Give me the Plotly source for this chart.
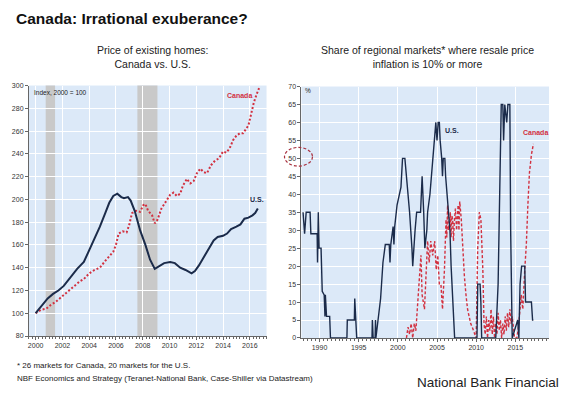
import plotly.graph_objects as go

# ---------------- Left chart: price of existing homes (Index, 2000 = 100)
us_price_x = [2000.0, 2000.4, 2000.9, 2001.3, 2001.7, 2002.1, 2002.6, 2003.1, 2003.6, 2004.0,
              2004.4, 2004.8, 2005.2, 2005.5, 2005.8, 2006.1, 2006.4, 2006.6, 2006.9, 2007.1,
              2007.4, 2007.6, 2007.8, 2008.2, 2008.55, 2008.9, 2009.2, 2009.6, 2010.05, 2010.4,
              2010.8, 2011.2, 2011.65, 2011.9, 2012.2, 2012.6, 2013.0, 2013.3, 2013.6, 2014.0,
              2014.3, 2014.6, 2015.0, 2015.3, 2015.6, 2015.9, 2016.2, 2016.4, 2016.6]
us_price_y = [100, 106, 113, 117, 120, 124, 132, 139, 145, 155,
              166, 176, 188, 197, 203, 205, 202, 201, 202, 199,
              190, 182, 173, 160, 147, 139, 141, 144, 145, 144,
              140, 138, 135, 137, 142, 150, 158, 164, 167, 168,
              170, 174, 176, 178, 183, 184, 186, 188, 192]

ca_price_x = [2000.0, 2000.4, 2000.8, 2001.1, 2001.5, 2001.9, 2002.4, 2002.9, 2003.3, 2003.6,
              2004.0, 2004.4, 2004.8, 2005.2, 2005.5, 2005.8, 2006.0, 2006.2, 2006.5, 2006.8,
              2007.0, 2007.2, 2007.5, 2007.8, 2008.05, 2008.2, 2008.4, 2008.7, 2008.9, 2009.1,
              2009.4, 2009.8, 2010.05, 2010.3, 2010.55, 2010.8, 2011.0, 2011.3, 2011.55, 2011.8,
              2012.05, 2012.3, 2012.55, 2012.8, 2013.1, 2013.4, 2013.7, 2014.0, 2014.25, 2014.5,
              2014.75, 2015.0, 2015.25, 2015.5, 2015.75, 2015.9, 2016.1, 2016.3, 2016.5, 2016.7]
ca_price_y = [100, 103, 104, 107, 110, 114, 119, 124, 128, 130,
              135, 138, 140, 146, 150, 154, 160, 170, 172, 171,
              178, 188, 190, 189, 195, 196, 190, 186, 179, 182,
              192, 199, 204, 206, 203, 205, 212, 218, 214, 216,
              223, 227, 224, 223, 230, 234, 236, 242, 241, 245,
              252, 256, 258, 258, 262, 265, 275, 285, 292, 298]

recessions = [(2000.75, 2001.45), (2007.6, 2009.1)]

# ---------------- Right chart: share of regional markets with >=10% inflation
us_share_x = [1987.9, 1988.1, 1988.3, 1988.8, 1988.9, 1989.7, 1989.75, 1989.85, 1989.95, 1990.2,
              1990.35, 1990.6, 1990.7, 1990.75, 1990.9, 1991.3, 1991.4, 1993.5, 1993.55, 1994.45,
              1994.5, 1994.7, 1994.75, 1996.7, 1996.75, 1996.85, 1997.1, 1997.15, 1997.2, 1997.8,
              1998.1, 1998.4, 1998.9, 1999.0, 1999.1, 1999.4, 1999.5, 1999.6, 1999.9, 2000.4,
              2000.6, 2000.9, 2001.1, 2001.3, 2001.5, 2001.8, 2001.9, 2002.2, 2002.4, 2002.9,
              2003.1, 2003.3, 2003.45, 2003.7, 2003.8, 2004.1, 2004.3, 2004.5, 2004.7, 2004.85,
              2005.0, 2005.15, 2005.3, 2005.4, 2005.6, 2005.7, 2005.8, 2006.0, 2006.1, 2006.3,
              2006.5, 2006.65, 2006.8, 2006.9, 2007.0, 2007.1, 2007.25, 2010.1, 2010.2, 2010.5,
              2010.6, 2010.7, 2012.5, 2012.8, 2013.0, 2013.2, 2013.4, 2013.5, 2013.65, 2013.9,
              2014.05, 2014.3, 2014.4, 2014.6, 2015.3, 2015.45, 2015.6, 2015.8, 2016.2, 2016.3,
              2017.05, 2017.2, 2017.3]
us_share_y = [35, 29, 35, 35, 29, 29, 21, 35, 25, 25,
              13, 12, 6, 12, 6, 6, 0, 0, 5, 5,
              11, 0, 0, 0, 5, 0, 0, 5, 0, 11,
              21, 26, 26, 21, 26, 31, 26, 31, 37, 42,
              50, 50, 45, 40, 35, 25, 20, 30, 35, 35,
              45, 35, 25, 30, 35, 40, 45, 50, 55, 60,
              55, 60, 60, 55, 50, 45, 50, 50, 45, 40,
              35, 30, 20, 15, 10, 5, 0, 0, 15, 15,
              10, 0, 0, 15, 45, 65, 65, 55, 65, 60,
              65, 65, 30, 0, 5, 0, 15, 20, 20, 10,
              10, 5, 5]

ca_share_x = [2001.1, 2001.3, 2001.5, 2001.7, 2001.9, 2002.1, 2002.3, 2002.5, 2002.7, 2002.95,
              2003.1, 2003.4, 2003.6, 2003.8, 2004.0, 2004.2, 2004.45, 2004.7, 2004.9, 2005.1,
              2005.3, 2005.5, 2005.7, 2005.95, 2006.15, 2006.25, 2006.35, 2006.45, 2006.6, 2006.7,
              2006.8, 2006.9, 2007.0, 2007.1, 2007.2, 2007.35, 2007.5, 2007.6, 2007.7, 2007.8,
              2007.9, 2008.1, 2008.3, 2008.5, 2008.7, 2008.9, 2009.1, 2009.3, 2009.5, 2009.8,
              2010.0, 2010.2, 2010.4, 2010.6, 2010.85, 2011.0, 2011.15, 2011.3, 2011.45, 2011.6,
              2011.75, 2011.9, 2012.05, 2012.2, 2012.35, 2012.5, 2012.65, 2012.8, 2012.95, 2013.1,
              2013.25, 2013.4, 2013.55, 2013.7, 2013.85, 2014.0, 2014.15, 2014.3, 2014.45, 2014.6,
              2014.75, 2014.9, 2015.2, 2015.4, 2015.75, 2015.95, 2016.2, 2016.4, 2016.6, 2016.8,
              2017.05, 2017.3]
ca_share_y = [0, 3, 1, 4, 0, 4, 2, 10, 15, 23,
              12, 8, 19, 27, 21, 27, 23, 27, 19, 23,
              15, 15, 8, 19, 33, 28, 37, 30, 31, 35,
              28, 34, 33, 27, 32, 36, 30, 34, 37, 30,
              38, 33, 24, 17, 12, 8, 6, 4, 3, 1,
              0, 25, 35, 33, 19, 4, 1, 6, 0, 5,
              2, 8, 1, 6, 0, 4, 1, 7, 2, 5,
              0, 4, 1, 6, 2, 7, 3, 8, 4, 6,
              2, 0, 0, 3, 12, 8, 19, 26, 37, 46,
              51, 54]

left_yticks = list(range(80, 301, 20))
left_xticks = list(range(2000, 2017, 2))
right_yticks = list(range(0, 71, 5))
right_xticks = list(range(1990, 2016, 5))

NAVY = "#1b2b4a"
RED = "#d2303f"
BG = "#dce9f8"
W, H = 570, 395
FONT = "Liberation Sans Narrow, Arial Narrow, Liberation Sans, Arial"
SANS = "Liberation Sans, Arial"


def px_x(p):
    return p / W


def px_y(p):
    return 1 - p / H


fig = go.Figure()
fig.add_trace(go.Scatter(x=ca_price_x, y=ca_price_y, mode="lines",
                         line=dict(color=RED, width=2, dash="2px,2px"), xaxis="x", yaxis="y"))
fig.add_trace(go.Scatter(x=us_price_x, y=us_price_y, mode="lines",
                         line=dict(color=NAVY, width=2), xaxis="x", yaxis="y"))
fig.add_trace(go.Scatter(x=ca_share_x, y=ca_share_y, mode="lines",
                         line=dict(color=RED, width=1.4, dash="3px,2px"), xaxis="x2", yaxis="y2"))
fig.add_trace(go.Scatter(x=us_share_x, y=us_share_y, mode="lines",
                         line=dict(color=NAVY, width=1.4), xaxis="x2", yaxis="y2"))

axis_common = dict(showline=True, linecolor="#666", linewidth=1, ticks="outside",
                   ticklen=3, tickcolor="#666", tickfont=dict(family=FONT, size=7, color="#333"),
                   showgrid=True, gridcolor="white", gridwidth=1, zeroline=False, mirror=False)

shapes = []
for a, b in recessions:
    shapes.append(dict(type="rect", xref="x", yref="y domain", x0=a, x1=b, y0=0, y1=1,
                       fillcolor="#c9c9c9", line=dict(width=0), layer="below"))
# dashed ellipse around the 50 label
shapes.append(dict(type="circle", xref="paper", yref="paper", layer="above",
                   x0=px_x(284), x1=px_x(312), y0=px_y(165), y1=px_y(146),
                   line=dict(color="#a8303f", width=1.2, dash="3px,2px")))

annotations = [
    dict(text="<b>Canada: Irrational exuberance?</b>", x=px_x(13), y=px_y(15), xanchor="left",
         yanchor="middle", font=dict(family=SANS, size=15.5, color="#111")),
    dict(text="Price of existing homes:<br>Canada vs. U.S.", x=px_x(152), y=px_y(54),
         xanchor="center", yanchor="middle", font=dict(family=SANS, size=10.5, color="#222")),
    dict(text="Share of regional markets* where resale price<br>inflation is 10% or more",
         x=px_x(427), y=px_y(54), xanchor="center", yanchor="middle",
         font=dict(family=SANS, size=10.5, color="#222")),
    dict(text="Index, 2000 = 100", x=px_x(31), y=px_y(90), xanchor="left", yanchor="middle",
         font=dict(family=SANS, size=6.5, color="#222")),
    dict(text="%", x=px_x(303), y=px_y(88), xanchor="left", yanchor="middle",
         font=dict(family=SANS, size=6.5, color="#222")),
    dict(text="<b>Canada</b>", x=px_x(239), y=px_y(93), xanchor="center", yanchor="middle",
         font=dict(family=SANS, size=7, color=RED)),
    dict(text="<b>U.S.</b>", x=px_x(256), y=px_y(199), xanchor="center", yanchor="middle",
         font=dict(family=SANS, size=7, color=NAVY)),
    dict(text="<b>U.S.</b>", x=px_x(452), y=px_y(129), xanchor="center", yanchor="middle",
         font=dict(family=SANS, size=7, color=NAVY)),
    dict(text="<b>Canada</b>", x=px_x(535), y=px_y(131), xanchor="center", yanchor="middle",
         font=dict(family=SANS, size=7, color=RED)),
    dict(text="* 26 markets for Canada, 20 markets for the U.S.", x=px_x(14), y=px_y(368),
         xanchor="left", yanchor="middle", font=dict(family=SANS, size=8, color="#222")),
    dict(text="NBF Economics and Strategy (Teranet-National Bank, Case-Shiller via Datastream)",
         x=px_x(14), y=px_y(381), xanchor="left", yanchor="middle",
         font=dict(family=SANS, size=8, color="#222")),
    dict(text="National Bank Financial", x=px_x(415), y=px_y(385), xanchor="left",
         yanchor="middle", font=dict(family=SANS, size=13.5, color="#222")),
]
for a in annotations:
    a.update(xref="paper", yref="paper", showarrow=False)

fig.update_layout(
    width=W, height=H, margin=dict(l=0, r=0, t=0, b=0),
    paper_bgcolor="white", plot_bgcolor=BG, showlegend=False,
    xaxis=dict(domain=[px_x(28), px_x(266)], range=[1999.5, 2017.25], tickvals=left_xticks,
               ticktext=[str(v) for v in left_xticks], anchor="y",
               minor=dict(ticks="outside", dtick=0.25, ticklen=2, tickcolor="#666", showgrid=False),
               **axis_common),
    yaxis=dict(domain=[px_y(338), px_y(83)], range=[80, 300], tickvals=left_yticks,
               anchor="x", **axis_common),
    xaxis2=dict(domain=[px_x(301), px_x(549)], range=[1987.7, 2019.3], tickvals=right_xticks,
                ticktext=[str(v) for v in right_xticks], anchor="y2",
                minor=dict(ticks="outside", dtick=0.5, ticklen=2, tickcolor="#666", showgrid=False),
                **axis_common),
    yaxis2=dict(domain=[px_y(340), px_y(84)], range=[0, 70], tickvals=right_yticks,
                anchor="x2", **axis_common),
    shapes=shapes, annotations=annotations,
)

fig.write_html("out.html", config={"displayModeBar": False},
               post_script="document.body.style.margin='0';document.body.style.overflow='hidden';")
